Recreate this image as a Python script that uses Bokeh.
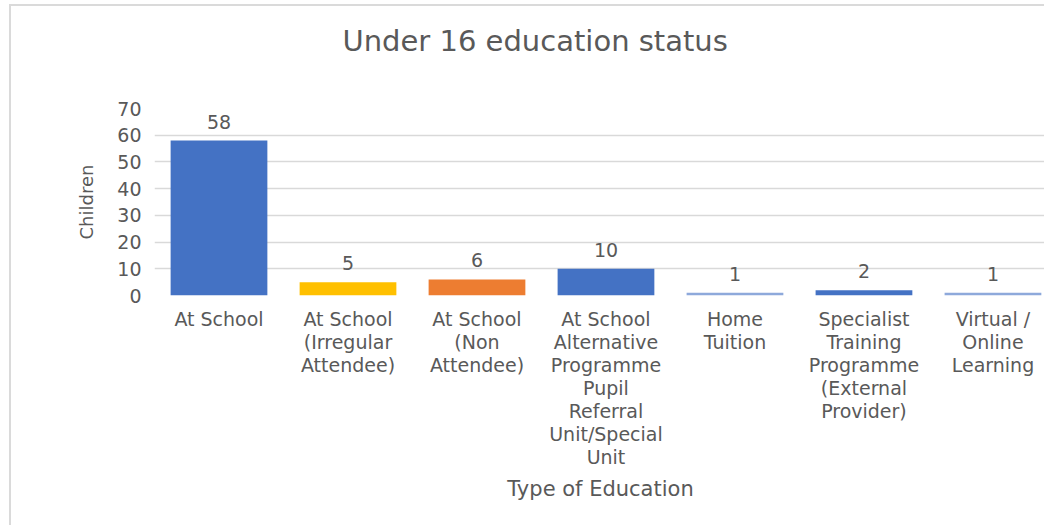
from bokeh.plotting import figure
from bokeh.models import ColumnDataSource, Range1d, FixedTicker, Title
from bokeh.embed import file_html
from bokeh.resources import INLINE
from bokeh.core.properties import value

# ---- data ----
categories = [
    "At School",
    "At School (Irregular Attendee)",
    "At School (Non Attendee)",
    "At School Alternative Programme Pupil Referral Unit/Special Unit",
    "Home Tuition",
    "Specialist Training Programme (External Provider)",
    "Virtual / Online Learning",
]
tick_labels = [
    "At School",
    "At School\n(Irregular\nAttendee)",
    "At School\n(Non\nAttendee)",
    "At School\nAlternative\nProgramme\nPupil\nReferral\nUnit/Special\nUnit",
    "Home\nTuition",
    "Specialist\nTraining\nProgramme\n(External\nProvider)",
    "Virtual /\nOnline\nLearning",
]
children = [58, 5, 6, 10, 1, 2, 1]
y_ticks = [0, 10, 20, 30, 40, 50, 60, 70]
bar_colors = ["#4472C4", "#FFC000", "#ED7D31", "#4472C4", "#8EA9DB", "#4472C4", "#8EA9DB"]
chart_title = "Under 16 education status"

TEXT = "#595959"
FONT = "DejaVu Sans"

xs = list(range(len(categories)))
src = ColumnDataSource(dict(
    x=xs, cat=categories, children=children, color=bar_colors,
    label=[str(v) for v in children],
))

p = figure(
    width=1035, height=521,
    x_range=Range1d(-0.5, 6.415), y_range=Range1d(0, 70),
    output_backend="svg", toolbar_location=None,
    min_border_left=143, min_border_right=0,
    min_border_top=101, min_border_bottom=232,
    styles={"margin-left": "9px", "margin-top": "4px",
            "border-top": "2px solid #dadada", "border-left": "2px solid #dadada"},
)
p.outline_line_color = None
p.background_fill_color = "white"
p.border_fill_color = "white"
p.title = None

# spacer between plot frame and title (nearest the frame)
p.add_layout(Title(text=" ", text_font_size="20px", standoff=12), "above")
# main title
p.add_layout(Title(
    text=chart_title, align="left", offset=188,
    text_font=FONT, text_font_size="29px", text_font_style="normal",
    text_color=TEXT, standoff=30,
), "above")

p.vbar(x="x", top="children", width=0.75, color="color", line_color=None, source=src)
p.text(x="x", y="children", text="label", source=src,
       text_align="center", text_baseline="middle", y_offset=-19,
       text_font=value(FONT), text_font_size="19px", text_color=TEXT)

# grid
p.xgrid.grid_line_color = None
p.ygrid.grid_line_color = "#d9d9d9"
p.ygrid.grid_line_width = 1.5
p.ygrid.ticker = FixedTicker(ticks=y_ticks)

# y axis
ya = p.yaxis[0]
ya.ticker = FixedTicker(ticks=y_ticks)
ya.axis_line_color = None
ya.major_tick_line_color = None
ya.minor_tick_line_color = None
ya.major_label_text_font = FONT
ya.major_label_text_font_size = "19px"
ya.major_label_text_color = TEXT
ya.major_label_standoff = 7
ya.axis_label = "Children"
ya.axis_label_text_font = FONT
ya.axis_label_text_font_size = "18px"
ya.axis_label_text_font_style = "normal"
ya.axis_label_text_color = TEXT
ya.axis_label_standoff = 17

# x axis
xa = p.xaxis[0]
xa.ticker = FixedTicker(ticks=xs)
xa.major_label_overrides = {i: t for i, t in zip(xs, tick_labels)}
xa.axis_line_color = None
xa.major_tick_line_color = None
xa.minor_tick_line_color = None
xa.major_label_text_font = FONT
xa.major_label_text_font_size = "19px"
xa.major_label_text_line_height = 1.05
xa.major_label_text_color = TEXT
xa.major_label_standoff = 6
xa.major_label_orientation = "horizontal"
xa.axis_label = "Type of Education"
xa.axis_label_text_font = FONT
xa.axis_label_text_font_size = "21px"
xa.axis_label_text_font_style = "normal"
xa.axis_label_text_color = TEXT
xa.axis_label_standoff = 6

open("out.html", "w").write(file_html(p, INLINE))
